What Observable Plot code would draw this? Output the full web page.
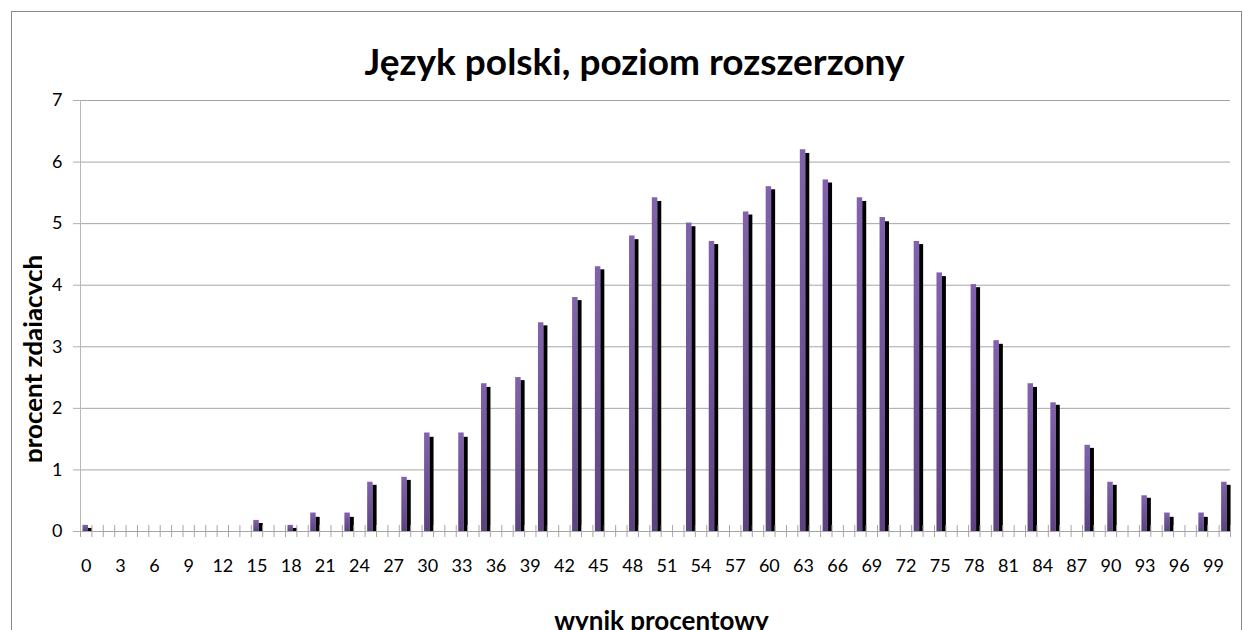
<!DOCTYPE html>
<html>
<head>
<meta charset="utf-8">
<script src="https://cdn.jsdelivr.net/npm/d3@7"></script>
<script src="https://cdn.jsdelivr.net/npm/@observablehq/plot@0.6"></script>
<style>
  html, body { margin: 0; padding: 0; background: #fff; overflow: hidden; }
  #wrap { position: relative; width: 1243px; height: 630px; overflow: hidden; }
  #wrap svg { position: absolute; left: 0; top: 0; }
  #frame { position: absolute; left: 11px; top: 11px; width: 1229px; height: 700px; border: 1px solid #8a8a8a; pointer-events: none; }
</style>
</head>
<body>
<div id="wrap"><div id="chart"></div><div id="frame"></div></div>
<script>
// ---- data ----
const titleText = "Język polski, poziom rozszerzony";
const xLabelText = "wynik procentowy";
const yLabelText = "procent zdających";
const categories = d3.range(0, 101);            // score categories 0..100
const xTickLabels = d3.range(0, 100, 3);        // 0, 3, ..., 99
const yTicks = [0, 1, 2, 3, 4, 5, 6, 7];
const scores  = [0, 15, 18, 20, 23, 25, 28, 30, 33, 35, 38, 40, 43, 45, 48, 50, 53, 55, 58, 60, 63, 65, 68, 70, 73, 75, 78, 80, 83, 85, 88, 90, 93, 95, 98, 100];
const seriesA = [0.1, 0.18, 0.1, 0.3, 0.3, 0.8, 0.88, 1.6, 1.6, 2.4, 2.5, 3.39, 3.8, 4.3, 4.8, 5.42, 5.01, 4.71, 5.19, 5.6, 6.2, 5.71, 5.42, 5.1, 4.71, 4.2, 4.01, 3.1, 2.4, 2.09, 1.4, 0.8, 0.58, 0.3, 0.3, 0.8];
const seriesB = [0.05, 0.13, 0.05, 0.23, 0.23, 0.75, 0.83, 1.53, 1.53, 2.34, 2.45, 3.34, 3.75, 4.25, 4.74, 5.36, 4.95, 4.66, 5.14, 5.55, 6.14, 5.66, 5.36, 5.03, 4.66, 4.14, 3.96, 3.04, 2.34, 2.05, 1.35, 0.75, 0.54, 0.23, 0.23, 0.75];

const rowsA = scores.map((s, i) => ({score: s, value: seriesA[i]}));
const rowsB = scores.map((s, i) => ({score: s, value: seriesB[i]}));
const boundaries = categories.concat([categories.length]);

const defsMark = () => {
  const defs = d3.create("svg:defs");
  const g = defs.append("linearGradient").attr("id", "purpleGrad")
    .attr("x1", 0).attr("y1", 0).attr("x2", 0).attr("y2", 1);
  g.append("stop").attr("offset", "0%").attr("stop-color", "#8262ae");
  g.append("stop").attr("offset", "100%").attr("stop-color", "#5c4282");
  defs.append("clipPath").attr("id", "ylabClip").attr("clipPathUnits", "userSpaceOnUse")
    .append("rect").attr("x", 0).attr("y", 0).attr("width", 42).attr("height", 630);
  return defs.node();
};

const font = "Lato, 'Open Sans', sans-serif";
const chart = Plot.plot({
  width: 1243,
  height: 630,
  marginTop: 100,
  marginBottom: 99,
  marginLeft: 80,
  marginRight: 13,
  style: {fontFamily: font, background: "transparent", color: "#000"},
  x: {type: "linear", domain: [0, categories.length], axis: null, label: null},
  y: {domain: [0, 7], axis: null, label: null},
  marks: [
    defsMark,
    Plot.ruleY(yTicks.filter(d => d > 0), {stroke: "#a6a6a6", strokeWidth: 1}),
    Plot.rectY(rowsA, {x1: d => d.score + 0.22, x2: d => d.score + 0.7, y1: 0, y2: "value", fill: "url(#purpleGrad)"}),
    Plot.rectY(rowsB, {x1: d => d.score + 0.7, x2: d => d.score + 1.05, y1: 0, y2: "value", fill: "#000"}),
    Plot.ruleX(boundaries, {x: d => d, y1: 0, y2: 0, insetTop: -6, insetBottom: -6, stroke: "#a6a6a6"}),
    Plot.ruleY([0], {stroke: "#a6a6a6"}),
    Plot.ruleX([0], {stroke: "#b8b8b8"}),
    Plot.axisY({ticks: yTicks, tickSize: 7, tickPadding: 11, fontSize: 18, stroke: "#b0b0b0", fill: "#000", label: null, tickFormat: d => String(d)}),
    Plot.axisX({ticks: xTickLabels.map(d => d + 0.5), tickSize: 0, tickPadding: 28, fontSize: 18, fill: "#000", label: null, tickFormat: d => String(Math.round(d - 0.5))}),
    Plot.text([titleText], {frameAnchor: "top", dx: -21, dy: -26, lineAnchor: "bottom", fontSize: 37, fontWeight: "bold", fill: "#000"}),
    Plot.text([xLabelText], {frameAnchor: "bottom", dx: 6, dy: 98, lineAnchor: "bottom", fontSize: 26, fontWeight: "bold", fill: "#000"}),
    Plot.text([yLabelText], {frameAnchor: "left", dx: -38, dy: 43, rotate: -90, textAnchor: "middle", lineAnchor: "bottom", fontSize: 26, fontWeight: "bold", fill: "#000"})
  ]
});
document.getElementById("chart").appendChild(chart);
// clip the y-axis title at its baseline like the reference
for (const t of chart.querySelectorAll("text")) {
  if (t.textContent === yLabelText) {
    const grp = t.parentNode;
    const wrapper = document.createElementNS("http://www.w3.org/2000/svg", "g");
    wrapper.setAttribute("clip-path", "url(#ylabClip)");
    grp.parentNode.insertBefore(wrapper, grp);
    wrapper.appendChild(grp);
    break;
  }
}
</script>
</body>
</html>
